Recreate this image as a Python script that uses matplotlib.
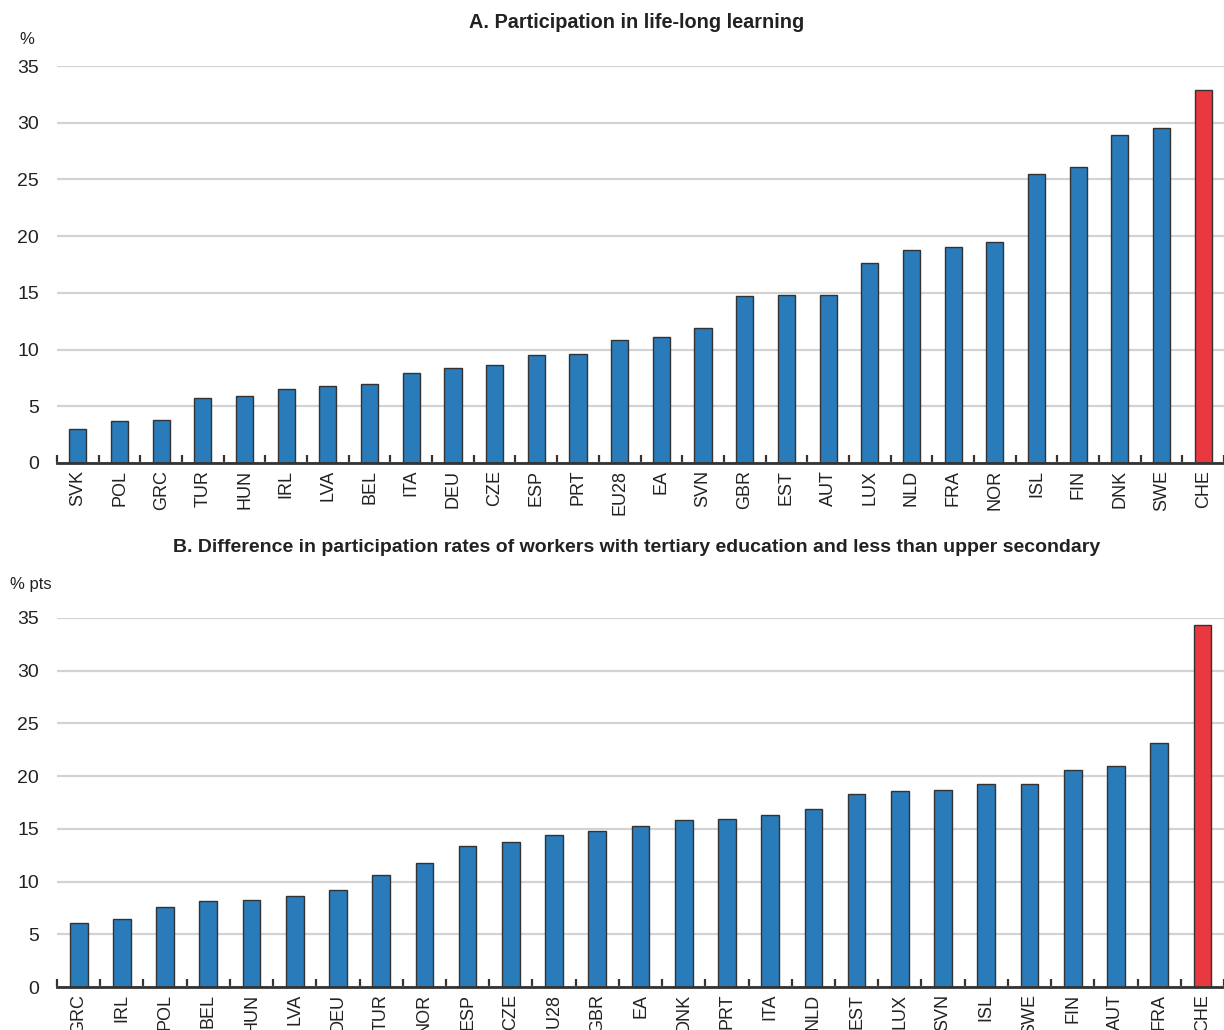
import matplotlib
matplotlib.use("Agg")
import matplotlib.pyplot as plt
import numpy as np

plt.rcParams['font.family'] = ['Liberation Sans Narrow', 'Liberation Sans', 'DejaVu Sans']

# Panel A: participation in life-long learning (%)
countries_a = ["SVK", "POL", "GRC", "TUR", "HUN", "IRL", "LVA", "BEL", "ITA", "DEU",
               "CZE", "ESP", "PRT", "EU28", "EA", "SVN", "GBR", "EST", "AUT", "LUX",
               "NLD", "FRA", "NOR", "ISL", "FIN", "DNK", "SWE", "CHE"]
values_a = [3.0, 3.7, 3.8, 5.7, 5.9, 6.5, 6.8, 7.0, 7.9, 8.4,
            8.6, 9.5, 9.6, 10.8, 11.1, 11.9, 14.7, 14.8, 14.8, 17.6,
            18.8, 19.0, 19.5, 25.5, 26.1, 28.9, 29.5, 32.9]

# Panel B: tertiary vs less than upper secondary gap (% pts)
countries_b = ["GRC", "IRL", "POL", "BEL", "HUN", "LVA", "DEU", "TUR", "NOR", "ESP",
               "CZE", "EU28", "GBR", "EA", "DNK", "PRT", "ITA", "NLD", "EST", "LUX",
               "SVN", "ISL", "SWE", "FIN", "AUT", "FRA", "CHE"]
values_b = [6.1, 6.5, 7.6, 8.2, 8.3, 8.6, 9.2, 10.6, 11.8, 13.4,
            13.8, 14.4, 14.8, 15.3, 15.8, 15.9, 16.3, 16.9, 18.3, 18.6,
            18.7, 19.3, 19.3, 20.6, 21.0, 23.1, 34.3]

highlight = "CHE"
yticks = [0, 5, 10, 15, 20, 25, 30, 35]

BLUE = "#2a7bba"
RED = "#e9383f"
EDGE = "#333333"
GRID = "#d3d3d3"
TEXT = "#222222"

fig = plt.figure(figsize=(12.24, 10.30), dpi=100)


def draw_panel(rect, cats, vals, title, title_size, unit, title_y, unit_xy):
    ax = fig.add_axes(rect)
    x = np.arange(len(cats))
    colors = [RED if c == highlight else BLUE for c in cats]
    ax.bar(x, vals, width=0.41, color=colors, edgecolor=EDGE, linewidth=1.0, zorder=3)
    ax.set_xlim(-0.5, len(cats) - 0.5)
    ax.set_ylim(0, 35)
    ax.set_yticks(yticks)
    ax.set_yticklabels([str(t) for t in yticks], fontsize=14, color=TEXT)
    ax.tick_params(axis='y', length=0, pad=13)
    ax.grid(axis='y', color=GRID, linewidth=1.6, zorder=0)
    ax.set_xticks(x)
    ax.set_xticklabels(cats, rotation=90, fontsize=13, color=TEXT)
    ax.tick_params(axis='x', which='major', length=0, pad=5)
    ax.set_xticks(np.arange(-0.5, len(cats) + 0.5, 1.0), minor=True)
    ax.tick_params(axis='x', which='minor', direction='in', length=6, width=1.6, color=EDGE)
    for s in ['top', 'right', 'left']:
        ax.spines[s].set_visible(False)
    ax.spines['bottom'].set_color(EDGE)
    ax.spines['bottom'].set_linewidth(2.0)
    ax.spines['bottom'].set_zorder(4)
    fig.text(0.5205, title_y, title, ha='center', va='center', fontsize=title_size,
             fontweight='bold', color=TEXT)
    fig.text(unit_xy[0], unit_xy[1], unit, ha='left', va='center', fontsize=12, color=TEXT)
    return ax


draw_panel([0.0466, 0.5505, 0.9534, 0.3854], countries_a, values_a,
           "A. Participation in life-long learning", 14.3, "%",
           1 - 23 / 1030, (19 / 1224, 1 - 39 / 1030))
draw_panel([0.0466, 0.0417, 0.9534, 0.3583], countries_b, values_b,
           "B. Difference in participation rates of workers with tertiary education and less than upper secondary",
           14.0, "% pts", 1 - 548 / 1030, (10 / 1224, 1 - 585 / 1030))

fig.savefig("out.png", dpi=100)
